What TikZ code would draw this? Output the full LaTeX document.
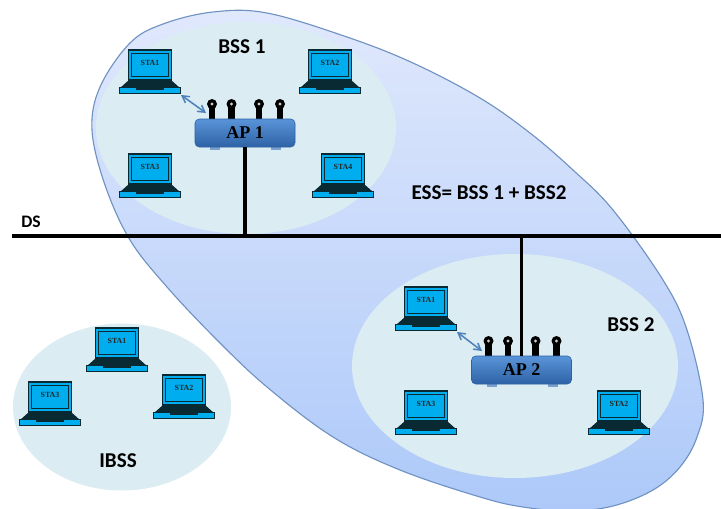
\documentclass[tikz,border=0pt]{standalone}
\usepackage{fontspec}
\setmainfont{Carlito}
\newfontfamily\stafont{Liberation Serif}
\usetikzlibrary{arrows,shapes.geometric}
\definecolor{cellblue}{HTML}{DBECF2}
\definecolor{esslight}{HTML}{E0E8FC}
\definecolor{essdark}{HTML}{ADC9F9}
\definecolor{essline}{HTML}{6F92C2}
\definecolor{screenblue}{HTML}{00AEEF}
\definecolor{linkblue}{HTML}{4F81BD}
\definecolor{bodytop}{HTML}{5A94D8}
\definecolor{bodybot}{HTML}{2E62A6}
\definecolor{bezel}{HTML}{0A2A33}
\newcommand{\pxlen}{.025cm}
\tikzset{
  cell/.style={draw=none, fill=cellblue, ellipse, inner sep=0pt},
  wire/.style={line width=2.2pt, black},
  assoc/.style={<->, >=angle 60, line width=1.1pt, linkblue},
  title/.style={font=\bfseries\fontsize{15}{17}\selectfont, text=black, inner sep=0pt},
  router/.style={rounded corners=3pt, draw=bodybot, top color=bodytop, bottom color=bodybot,
    minimum width=100*\pxlen, minimum height=28*\pxlen, inner sep=0pt,
    font=\stafont\bfseries\fontsize{12.8}{14}\selectfont, text=black},
  laptop/.pic={
    \fill[screenblue, draw=bezel, line width=.9pt] (-21.5,-30) rectangle (21.5,0);
    \draw[bezel, line width=.9pt] (-18.5,-26.5) rectangle (18.5,-3.5);
    \fill[bezel] (-21,0) -- (21,0) -- (30,8) -- (-30,8) -- cycle;
    \fill[screenblue, draw=bezel, line width=.7pt] (-30.5,7.5) rectangle (30.5,13.5);
    \fill[bezel] (-14,6) rectangle (14,10);
    \node (-screen) at (0,-17) [font=\stafont\bfseries\fontsize{5.6}{6}\selectfont, text=black!85, inner sep=0pt] {\tikzpictext};
    \coordinate (-foot) at (31,15);
  },
}

\begin{document}
\begin{tikzpicture}[x=\pxlen, y=-\pxlen]
  \clip (0,0) rectangle (721,508);

  % ESS outline
  \path[draw=essline, line width=.8pt, top color=esslight, bottom color=essdark]
    plot[smooth cycle, tension=.6] coordinates {
      (92,130) (100,87) (130,43) (163,24) (213,12) (267,13) (347,37) (413,63)
      (480,98) (530,133) (573,170) (613,210) (663,280) (687,330)
      (703,400) (697,437) (680,467) (653,490) (613,506) (570,511)
      (523,507) (480,497) (400,470) (333,437) (267,387) (217,340) (167,287)
      (130,240) (105,185)};

  \node (bss1) at (246,128) [cell, minimum width=300*\pxlen, minimum height=212*\pxlen] {};
  \node (bss2) at (515,366) [cell, minimum width=326*\pxlen, minimum height=224*\pxlen] {};
  \node (ibss) at (122,407) [cell, minimum width=218*\pxlen, minimum height=167*\pxlen] {};

  % stations
  \foreach \nm/\x/\y/\lab in {a1/150/80/STA1, a2/330/80/STA2, a3/150/184/STA3, a4/343/184/STA4,
                              b1/426/317/STA1, b3/426/421/STA3, b2/619/421/STA2,
                              c1/117/358/STA1, c2/184/405/STA2, c3/50/412/STA3}
    {
      \pic (\nm) at (\x,\y) [pic text=\lab] {laptop};
    }

  % DS
  \coordinate (dsl) at (12,236);
  \coordinate (dsr) at (721,236);
  \draw[wire] (dsl) -- (dsr);

  % access points
  \foreach \nm/\x/\y/\lab in {ap1/245/133/AP 1, ap2/521.5/370/AP 2}
    {
      \foreach \dx in {-33,-13.5,14,35}
        {
          \draw[line width=4.5pt, black] (\x+\dx,\y-14) -- (\x+\dx,\y-28);
          \fill[black] (\x+\dx,\y-29) circle (5);
          \fill[white!80!black] (\x+\dx,\y-29) circle (1.6);
        }
      \foreach \dx in {-30,31}
        \fill[linkblue!75] (\x+\dx-5,\y+13) rectangle (\x+\dx+5,\y+17);
      \node (\nm) at (\x,\y) [router] {\lab};
    }
  \coordinate (ap1in) at (206,113);
  \coordinate (ap2in) at (482,351);
  \draw[wire] (ap1.south) -- (ap1.south |- dsl);
  \draw[wire] (ap2.north) -- (ap2.north |- dsl);
  \draw[assoc] (a1-foot) -- (ap1in);
  \draw[assoc] (b1-foot) -- (ap2in);

  \node (bss1txt) at (242,47) [title] {BSS 1};
  \node (bss2txt) at (631,325) [title] {BSS 2};
  \node (ibsstxt) at (118,461) [title] {IBSS};
  \node (esstxt) at (489,193) [title] {ESS= BSS 1 + BSS2};
  \node (dstxt) at (31,222) [title, font=\bfseries\fontsize{12.5}{14}\selectfont] {DS};
\end{tikzpicture}
\end{document}
